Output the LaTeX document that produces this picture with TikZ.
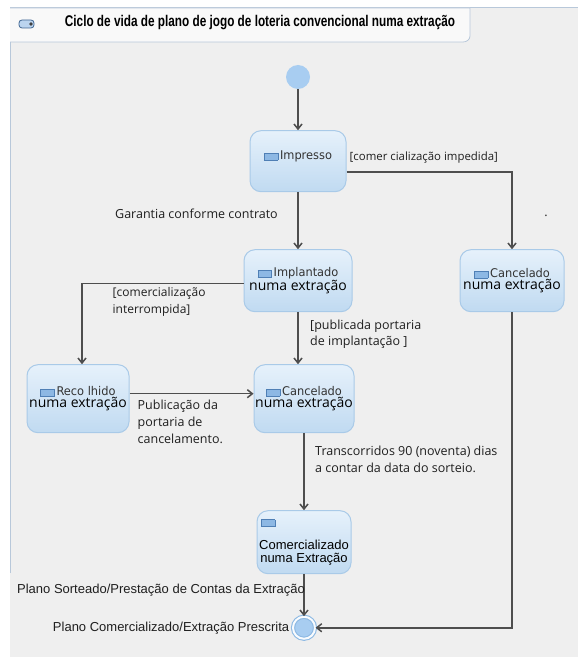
\documentclass[tikz,border=0pt]{standalone}
\usepackage{fontspec}
\usetikzlibrary{positioning,arrows.meta}
\setmainfont{Open Sans}
\newfontfamily\arialfont{Liberation Sans}
\newfontfamily\titlefont{Liberation Sans}[FakeStretch=0.76]
\newfontfamily\namefont{DejaVu Sans}[FakeStretch=0.95]
\definecolor{bgray}{HTML}{EFEFEF}
\definecolor{frameline}{HTML}{B8C8DA}
\definecolor{boxtop}{HTML}{E6F1FB}
\definecolor{boxbot}{HTML}{C0DAF1}
\definecolor{boxline}{HTML}{A9CAE8}
\definecolor{dotblue}{HTML}{A8CDF1}
\definecolor{ringblue}{HTML}{8DB9E3}
\definecolor{lineg}{HTML}{4E4E4E}
\definecolor{icofill}{HTML}{8DB8E4}
\definecolor{icoline}{HTML}{4F7FB5}
\newcommand{\stateicon}{{\setlength{\fboxsep}{0pt}\setlength{\fboxrule}{0.7pt}\fcolorbox{icoline}{icofill}{\rule{0pt}{6pt}\hspace{13pt}}}}
\newcommand{\stname}[1]{{\namefont\fontsize{12}{15}\selectfont\color{black!80}#1}}
\newcommand{\bigline}[1]{{\fontsize{14}{20}\selectfont #1}}
\tikzstyle{lbl} = [
    % fill=white,
    text=black!88,
    font=\fontsize{12.5}{17}\selectfont,
    inner sep=0pt,
    align=left
]

\begin{document}
\begin{tikzpicture}[x=1pt, y=1pt,
        statebox/.style n args={2}{
            rectangle, rounded corners=11pt, line width=1pt,
            draw=boxline, top color=boxtop, bottom color=boxbot,
            minimum width=#1,
            minimum height=#2,
            inner sep=1pt, align=center
        },
        pseudo/.style={circle, fill=dotblue, minimum size=24pt, inner sep=0pt},
        endstate/.style={
            circle, fill=dotblue, draw=ringblue, line width=1.1pt,
            double=white!92!dotblue, double distance=2pt,
            minimum size=22pt, inner sep=0pt
        },
        trans/.style={draw=lineg, line width=1.5pt, -{Straight Barb[length=5pt,width=8pt]}}
    ]
        \useasboundingbox (0,0) rectangle (578,-668);
        % frame of the diagram
        \fill[bgray] (10,-8) rectangle (578,-657);
        \draw[frameline, line width=1pt] (10,-573) -- (10,-8) -- (578,-8);
        \draw[frameline, fill=white!60!bgray, line width=0.8pt] (10,-8) -- (470,-8) -- (470,-36) to[out=-90, in=0] (463,-42) -- (10,-42);
        \draw[icoline!80!black, fill=icofill!60, line width=0.8pt, rounded corners=3pt] (19,-20) rectangle (34,-28);
        \fill[black!75] (31,-24) circle (1.8);
        \node[font=\titlefont\bfseries\fontsize{15.5}{18}\selectfont, text=black, inner sep=0pt] (title) at (260,-23) {Ciclo de vida de plano de jogo de loteria convencional numa extração};

        % states
        \node[pseudo] (start) at (298,-77) {};
        \node[statebox={96pt}{61pt}] (impresso) [below=41pt of start] {\stateicon\,\stname{Impresso}\\ \mbox{}};
        \node[statebox={108pt}{62pt}] (implantado) [below=57pt of impresso] {\stateicon\,\stname{Implantado}\\ \bigline{numa extração}};
        \node[statebox={104pt}{62pt}] (cancelR) [right=107pt of implantado] {\stateicon\,\stname{Cancelado}\\ \bigline{numa extração}};
        \node[statebox={100pt}{68pt}] (canceladoM) [below=52pt of implantado, xshift=6pt] {\stateicon\,\stname{Cancelado}\\ \bigline{numa extração}};
        \node[statebox={102pt}{68pt}] (recolhido) [left=124pt of canceladoM] {\stateicon\,\stname{Reco lhido}\\ \bigline{numa extração}};
        \node[statebox={94pt}{63pt}, font=\arialfont\fontsize{13}{13}\selectfont] (comercializado) [below=77pt of canceladoM] {\makebox[86pt][l]{\stateicon}\\[10pt] Comercializado\\ numa Extração};
        \node[endstate] (final) [below=42pt of comercializado] {};

        % transitions
        \draw[trans] (start) -- (impresso);
        \draw[trans] ([yshift=-11pt]impresso.east) -| (cancelR);
        \draw[trans] (impresso) -- (implantado);
        \draw[trans] ([yshift=-3pt]implantado.west) -| ([xshift=4pt]recolhido.north);
        \draw[trans] (implantado.south) -- (implantado.south |- canceladoM.north);
        \draw[trans] ([yshift=5pt]recolhido.east) -- ([yshift=5pt]canceladoM.west);
        \draw[trans] (canceladoM) -- (comercializado);
        \draw[trans] (comercializado) -- (final);
        \draw[trans] (cancelR) |- (final);

        % labels
        \node[lbl, anchor=west, font=\fontsize{11.4}{14}\selectfont] (lblimpedida) at ([xshift=3pt,yshift=3.5pt]impresso.east) {[comer cialização impedida]};
        \node[lbl, anchor=east] (lblgarantia) at ([xshift=-20pt,yshift=-22pt]impresso.south) {Garantia conforme contrato};
        \node[lbl, anchor=north west, font=\fontsize{12}{17}\selectfont] (lblinterrompida) at ([xshift=-131pt,yshift=-6pt]implantado.west) {[comercialização\\ interrompida]};
        \node[lbl, anchor=north west, font=\fontsize{12.5}{16}\selectfont] (lblportaria) at ([xshift=12pt,yshift=-8pt]implantado.south) {[publicada portaria\\ de implantação ]};
        \node[lbl, anchor=north west] (lblpublicacao) at ([xshift=8pt,yshift=-1pt]recolhido.east) {Publicação da\\ portaria de\\ cancelamento.};
        \node[lbl, anchor=north west] (lbltranscorridos) at ([xshift=11pt,yshift=-13pt]canceladoM.south) {Transcorridos 90 (noventa) dias\\ a contar da data do sorteio.};
        \node[lbl] (lbldot) at ([xshift=34pt,yshift=33pt]cancelR.north) {.};
        \node[lbl, anchor=east, font=\arialfont\fontsize{13}{14}\selectfont] (lblsorteado) at ([xshift=1pt,yshift=-16pt]comercializado.south) {Plano Sorteado/Prestação de Contas da Extração};
        \node[lbl, anchor=east, font=\arialfont\fontsize{13}{14}\selectfont] (lblprescrita) at ([xshift=-3pt]final.west) {Plano Comercializado/Extração Prescrita};
    \end{tikzpicture}
\end{document}
